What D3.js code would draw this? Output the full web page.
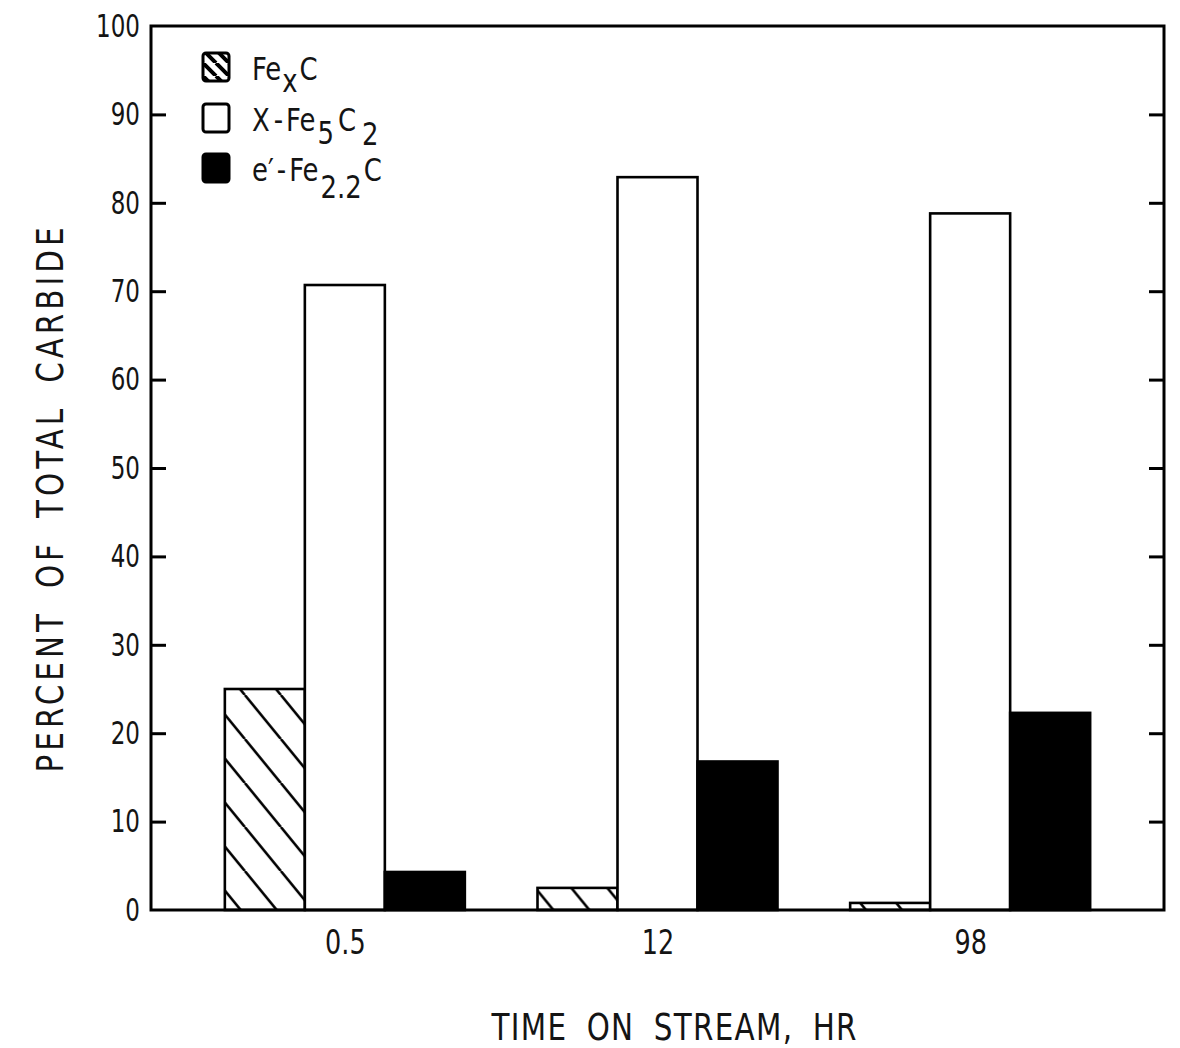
<!DOCTYPE html>
<html>
<head>
<meta charset="utf-8">
<script src="https://cdn.jsdelivr.net/npm/d3@7"></script>
<style>
  html, body { margin: 0; padding: 0; background: #fff; }
  svg { display: block; }
  text { font-family: "DejaVu Sans Condensed", "DejaVu Sans", sans-serif; fill: #141414; }
</style>
</head>
<body>
<svg id="chart" width="1180" height="1048"></svg>
<script>
// Carbide phase distribution versus time on stream
const times = ["0.5", "12", "98"];
const phases = ["FexC", "chi", "eprime"];
const fexC = [25.0, 2.5, 0.8];
const chiFe5C2 = [70.7, 82.9, 78.8];
const ePrimeFe22C = [4.3, 16.8, 22.3];
const yTicks = [0, 10, 20, 30, 40, 50, 60, 70, 80, 90, 100];

const seriesValues = { FexC: fexC, chi: chiFe5C2, eprime: ePrimeFe22C };

const plot = { left: 151, right: 1164, top: 26, bottom: 910 };
const FONT = "\"DejaVu Sans Condensed\", \"DejaVu Sans\", sans-serif";

const svg = d3.select("#chart");

// horizontally squeeze text, keeping its anchor in place
function squeeze(sel, k) {
  sel.each(function () {
    const t = d3.select(this);
    const x = +t.attr("x") || 0;
    t.attr("x", x / k).attr("transform", `scale(${k},1)`);
  });
}

// diagonal hatch fill
const defs = svg.append("defs");
const pat = defs.append("pattern")
  .attr("id", "hatch")
  .attr("patternUnits", "userSpaceOnUse")
  .attr("width", 36).attr("height", 44)
  .attr("x", 224).attr("y", 695);
pat.append("path")
  .attr("d", "M0,0 L36,44 M-36,0 L0,44 M36,0 L72,44")
  .attr("stroke", "#000").attr("stroke-width", 2.6).attr("fill", "none");

const legPat = defs.append("pattern")
  .attr("id", "hatchLegend")
  .attr("patternUnits", "userSpaceOnUse")
  .attr("width", 13).attr("height", 13)
  .attr("x", 203).attr("y", 50);
legPat.append("path")
  .attr("d", "M0,0 L13,13 M-13,0 L0,13 M13,0 L26,13")
  .attr("stroke", "#000").attr("stroke-width", 4).attr("fill", "none");

const y = d3.scaleLinear().domain([0, 100]).range([plot.bottom, plot.top]);
const x0 = d3.scalePoint().domain(times).range([plot.left, plot.right]).padding(0.62);
const x1 = d3.scaleBand().domain(phases).range([-120, 120]).padding(0);

const fills = { FexC: "url(#hatch)", chi: "#fff", eprime: "#000" };

// bars
const groups = svg.append("g").selectAll("g")
  .data(times)
  .join("g")
  .attr("transform", d => `translate(${x0(d)},0)`);

groups.selectAll("rect")
  .data((d, i) => phases.map(p => ({ phase: p, value: seriesValues[p][i] })))
  .join("rect")
  .attr("x", d => x1(d.phase))
  .attr("width", x1.bandwidth())
  .attr("y", d => y(d.value))
  .attr("height", d => y(0) - y(d.value))
  .attr("fill", d => fills[d.phase])
  .attr("stroke", "#000")
  .attr("stroke-width", 2.6);

// frame
svg.append("rect")
  .attr("x", plot.left).attr("y", plot.top)
  .attr("width", plot.right - plot.left)
  .attr("height", plot.bottom - plot.top)
  .attr("fill", "none").attr("stroke", "#000").attr("stroke-width", 3);

// left axis with inward ticks
const leftAxis = d3.axisLeft(y).tickValues(yTicks).tickSize(-15).tickPadding(11).tickFormat(d3.format("d"));
const gL = svg.append("g").attr("transform", `translate(${plot.left},0)`).call(leftAxis);
gL.select(".domain").remove();
gL.selectAll(".tick line").attr("stroke", "#000").attr("stroke-width", 3)
  .filter(d => d === 0 || d === 100).remove();
gL.selectAll(".tick text")
  .attr("font-size", 32).attr("fill", "#141414")
  .style("font-family", FONT)
  .call(squeeze, 0.8);

// right axis ticks, also inward
const rightAxis = d3.axisRight(y).tickValues(yTicks.filter(d => d > 0 && d < 100)).tickSize(-15).tickFormat("");
const gR = svg.append("g").attr("transform", `translate(${plot.right},0)`).call(rightAxis);
gR.select(".domain").remove();
gR.selectAll(".tick line").attr("stroke", "#000").attr("stroke-width", 3);

// bottom category labels
const bottomAxis = d3.axisBottom(x0).tickSize(0).tickPadding(21);
const gB = svg.append("g").attr("transform", `translate(0,${plot.bottom})`).call(bottomAxis);
gB.select(".domain").remove();
gB.selectAll(".tick text")
  .attr("font-size", 33).attr("fill", "#141414")
  .style("font-family", FONT)
  .call(squeeze, 0.86);

// axis titles: narrow capitals with wide word gaps
const TK = 0.86;
svg.append("text")
  .attr("transform", `translate(674,1040) scale(${TK},1)`)
  .attr("text-anchor", "middle")
  .attr("font-size", 38)
  .attr("word-spacing", 10)
  .attr("textLength", 365 / TK).attr("lengthAdjust", "spacing")
  .text("TIME ON STREAM, HR");

svg.append("text")
  .attr("transform", `translate(63,500) rotate(-90) scale(${TK},1)`)
  .attr("text-anchor", "middle")
  .attr("font-size", 38)
  .attr("word-spacing", 10)
  .attr("textLength", 545 / TK).attr("lengthAdjust", "spacing")
  .text("PERCENT OF TOTAL CARBIDE");

// legend
const LK = 0.9;
const legendItems = [
  { fill: "url(#hatchLegend)", y: 53, parts: [["Fe", 0, 0], ["x", 12, 1], ["C", 0, 2]] },
  { fill: "#fff", y: 104, parts: [["X", 0, 0], ["-", 0, 4], ["Fe", 0, 3], ["5", 13, 2], ["C", 0, 4], ["2", 14, 6]] },
  { fill: "#000", y: 154, parts: [["e\u2032", 0, 0], ["-", 0, 3], ["Fe", 0, 3], ["2.2", 17, 2], ["C", 0, 2]] }
];
const leg = svg.append("g");
legendItems.forEach(item => {
  leg.append("rect")
    .attr("x", 203).attr("y", item.y)
    .attr("width", 26).attr("height", 28)
    .attr("rx", 3)
    .attr("fill", item.fill)
    .attr("stroke", "#000").attr("stroke-width", 3);
  const t = leg.append("text")
    .attr("x", 252).attr("y", item.y + 27)
    .attr("font-size", 32)
    .style("font-family", FONT);
  let prev = 0;
  item.parts.forEach(([s, dy, dx]) => {
    t.append("tspan")
      .attr("dy", dy - prev)
      .attr("dx", dx / LK)
      .text(s);
    prev = dy;
  });
  t.call(squeeze, LK);
});
</script>
</body>
</html>
